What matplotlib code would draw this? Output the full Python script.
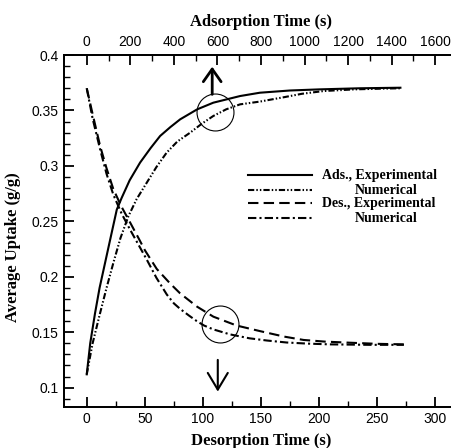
import matplotlib
matplotlib.use("Agg")
import matplotlib.pyplot as plt

# adsorption curves (adsorption time, s) -> top axis
ads_t = [0, 16, 38, 59, 84, 107, 138, 160, 197, 245, 293, 337, 384, 429, 507, 581, 704, 795, 933,
         1067, 1253, 1440]
ads_exp = [0.112, 0.14, 0.167, 0.19, 0.2124, 0.233, 0.2606, 0.271, 0.287, 0.303, 0.316, 0.327, 0.335,
           0.342, 0.351, 0.357, 0.363, 0.366, 0.368, 0.369, 0.370, 0.3705]
ads_num_t = [0, 27, 61, 91, 122, 155, 191, 229, 276, 320, 367, 416, 475, 528, 581, 640, 704, 795, 907,
             987, 1087, 1227, 1360, 1440]
ads_num = [0.112, 0.14, 0.167, 0.19, 0.2124, 0.235, 0.2545, 0.27, 0.285, 0.299, 0.312, 0.322, 0.330,
           0.338, 0.345, 0.351, 0.3555, 0.358, 0.362, 0.365, 0.3675, 0.369, 0.3697, 0.370]

# desorption curves (desorption time, s) -> bottom axis
des_t = [0, 5, 11.5, 17, 22.9, 30, 37.3, 45, 50, 60.3, 71.7, 80.4, 95, 109, 129, 149, 170, 186.6,
         205, 226.8, 250, 274]
des_exp = [0.370, 0.347, 0.318, 0.298, 0.279, 0.263, 0.249, 0.234, 0.224, 0.207, 0.194, 0.185, 0.173,
           0.164, 0.156, 0.151, 0.146, 0.143, 0.1415, 0.1405, 0.1395, 0.139]
des_num_t = [0, 5, 11.5, 17, 22.9, 30, 37.3, 45, 51.7, 60, 68.9, 75, 80.4, 88, 94.7, 101, 109, 123.4,
             140, 155, 172, 190, 210, 244, 273]
des_num = [0.370, 0.343, 0.315, 0.293, 0.274, 0.257, 0.2425, 0.228, 0.2154, 0.199, 0.184, 0.176,
           0.171, 0.165, 0.160, 0.156, 0.1525, 0.148, 0.1445, 0.1425, 0.1407, 0.1397, 0.139, 0.1386,
           0.1386]

# highlight circles (desorption-time coords)
circle_x = [110.5, 114.8]
circle_y = [0.349, 0.1576]

ratio = 1600 / 300  # adsorption / desorption axis scale

fig = plt.figure(figsize=(4.52, 4.48), dpi=100)
ax = fig.add_axes([0.1423, 0.0922, 0.87, 0.785])
ax.set_xlim(-19.3, 319.2)
ax.set_ylim(0.0828, 0.4)
ax2 = ax.twiny()
ax2.set_xlim(-19.3 * ratio, 319.2 * ratio)

k = "black"
lw = 1.5
ax2.plot(ads_t, ads_exp, color=k, lw=lw, ls="-")
ax2.plot(ads_num_t, ads_num, color=k, lw=lw, ls=(0, (3, 1, 0.7, 1, 0.7, 1)))
ax.plot(des_t, des_exp, color=k, lw=lw, ls=(0, (5, 2.5)))
ax.plot(des_num_t, des_num, color=k, lw=lw, ls=(0, (4, 1.5, 1, 1.5)))

ax.plot(circle_x, circle_y, ls="none", marker="o", ms=26.6, mfc="none", mec=k, mew=0.8)
ax.annotate("", xy=(108, 0.3895), xytext=(108, 0.3645),
            arrowprops=dict(arrowstyle="->,head_length=0.91,head_width=0.64", lw=2, color=k,
                            shrinkA=0, shrinkB=0, mutation_scale=10))
ax.annotate("", xy=(112.8, 0.0964), xytext=(112.8, 0.125),
            arrowprops=dict(arrowstyle="->,head_length=1.2,head_width=0.72", lw=1.5, color=k,
                            shrinkA=0, shrinkB=0, mutation_scale=10))

# ticks
ax.set_xticks(range(0, 301, 50))
ax.set_xticks(range(25, 320, 50), minor=True)
ax.set_yticks([0.1, 0.15, 0.2, 0.25, 0.3, 0.35, 0.4])
ax.set_yticklabels(["0.1", "0.15", "0.2", "0.25", "0.3", "0.35", "0.4"])
ax.set_yticks([0.09 + 0.01 * i for i in range(31) if i % 5 != 1], minor=True)
ax2.set_xticks(range(0, 1601, 200))
ax2.set_xticks(range(100, 1700, 200), minor=True)

for a in (ax, ax2):
    a.tick_params(which="major", direction="in", length=7, width=1.3, pad=4)
    a.tick_params(which="minor", direction="in", length=4, width=1.0)
    for lab in a.get_xticklabels() + a.get_yticklabels():
        lab.set_fontfamily("Liberation Sans")
        lab.set_fontsize(10)
ax.tick_params(axis="y", which="both", right=False)
ax.tick_params(axis="x", which="both", top=False)
for a in (ax, ax2):
    a.spines["right"].set_visible(False)
    for s in ("left", "top", "bottom"):
        a.spines[s].set_linewidth(1.3)

label_font = dict(fontfamily="Liberation Serif", fontweight="bold", fontsize=12)
ax.set_xlabel("Desorption Time (s)", labelpad=5, **label_font)
ax2.set_xlabel("Adsorption Time (s)", labelpad=7, **label_font)
fig.text(13 / 452, 1 - 246.7 / 448, "Average Uptake (g/g)", rotation=90, ha="center", va="center",
         **label_font)

# legend drawn by hand
legend_rows = [("Ads., Experimental", "-", 0.712),
               ("Numerical", (0, (3, 1, 0.7, 1, 0.7, 1)), 0.785),
               ("Des., Experimental", (0, (5, 2.5)), 0.712),
               ("Numerical", (0, (4, 1.5, 1, 1.5)), 0.785)]
row_y = [1 - 175 / 448, 1 - 190 / 448, 1 - 203.3 / 448, 1 - 218.3 / 448]
for (text, style, tx), yy in zip(legend_rows, row_y):
    fig.add_artist(plt.Line2D([248 / 452, 312 / 452], [yy, yy], color=k, lw=lw, ls=style))
    fig.text(tx, yy, text, ha="left", va="center", fontfamily="Liberation Serif",
             fontweight="bold", fontsize=10)

fig.savefig("out.png", dpi=100)
